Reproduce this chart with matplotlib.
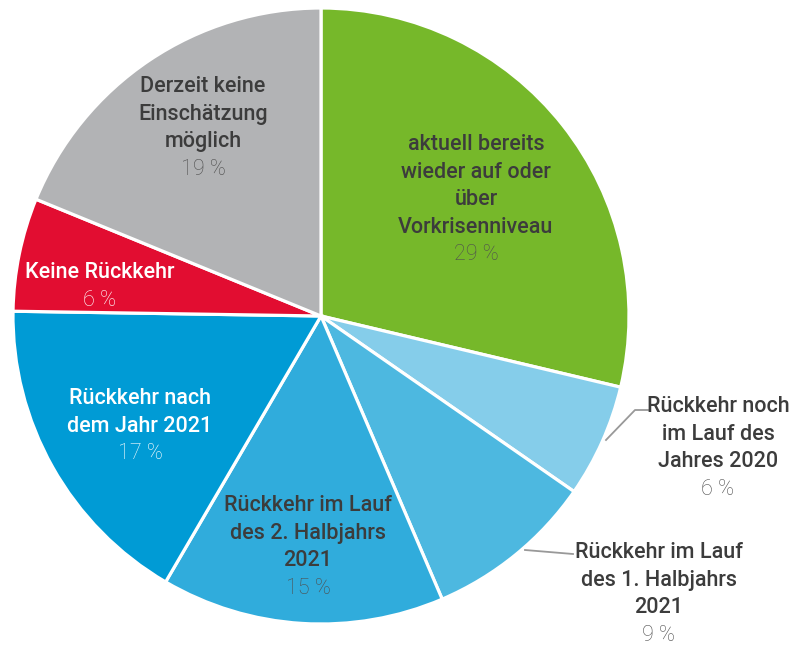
import matplotlib.pyplot as plt

categories = [
    "aktuell bereits\nwieder auf oder\nüber\nVorkrisenniveau",
    "Rückkehr noch\nim Lauf des\nJahres 2020",
    "Rückkehr im Lauf\ndes 1. Halbjahrs\n2021",
    "Rückkehr im Lauf\ndes 2. Halbjahrs\n2021",
    "Rückkehr nach\ndem Jahr 2021",
    "Keine Rückkehr",
    "Derzeit keine\nEinschätzung\nmöglich",
]
values = [29, 6, 9, 15, 17, 6, 19]
colors = ["#76b82a", "#85cdea", "#4db8e0", "#30acdc", "#009bd5", "#e20d31", "#b2b3b5"]

plt.rcParams['font.family'] = ['Roboto', 'DejaVu Sans']

W, H = 792, 645
fig = plt.figure(figsize=(W / 100, H / 100), dpi=100)
ax = fig.add_axes([0, 0, 1, 1])

cx, cy, r = 321, 316, 308
ax.pie(values, colors=colors, startangle=90, counterclock=False,
       center=(cx, H - cy), radius=r,
       wedgeprops=dict(edgecolor="white", linewidth=2.3))
ax.set_xlim(0, W)
ax.set_ylim(0, H)
ax.set_aspect("equal")
ax.axis("off")

# label placement: centre x, centre y of the first line (pixels from top)
dark = "#3c3c3c"
pct_dark = "#4f4f4f"
label_pos = [(476, 142), (718, 404), (659, 550), (308, 503), (140, 396), (100, 270), (203, 84)]
label_col = [dark, dark, dark, dark, "white", "white", dark]
pct_col = [pct_dark, pct_dark, pct_dark, pct_dark, "white", "white", pct_dark]
line_h = 27.6

for name, v, (x, y), lc, pc in zip(categories, values, label_pos, label_col, pct_col):
    lines = name.split("\n")
    for i, line in enumerate(lines):
        ax.text(x, H - (y + i * line_h), line, ha="center", va="center_baseline",
                fontsize=15.5, color=lc, fontweight="medium")
    ax.text(x, H - (y + len(lines) * line_h), f"{v} %", ha="center", va="center_baseline",
            fontsize=15.5, color=pc, fontweight="light")

# leader lines for the two small slices
ax.plot([606, 635, 648], [H - 440, H - 410, H - 410], color="#999999", lw=1.3)
ax.plot([525, 573], [H - 550, H - 554], color="#999999", lw=1.3)

fig.savefig("out.png", dpi=100)
